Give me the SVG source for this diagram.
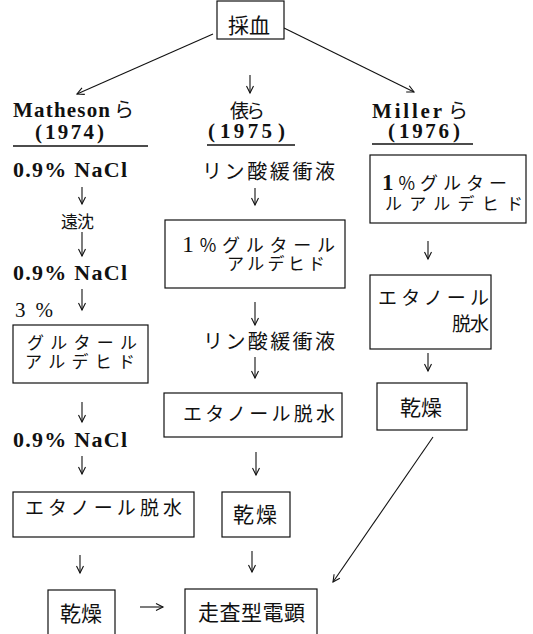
<svg xmlns="http://www.w3.org/2000/svg" width="533" height="634" viewBox="0 0 533 634">
<style>
.b{fill:#fff;stroke:#111;stroke-width:1.2}
.c{fill:none;stroke:#111;stroke-width:1.1}
.j{font-family:"Noto Sans CJK JP","Noto Sans CJK SC",sans-serif;fill:#111}
.s{font-family:"Liberation Serif","Noto Sans CJK JP",serif;font-weight:bold;fill:#111}
.u{stroke:#111;stroke-width:1.3}
</style>
<defs>
<marker id="ah" markerUnits="userSpaceOnUse" markerWidth="12" markerHeight="10" refX="10" refY="5" orient="auto">
<path d="M3,1.5 L10,5 L3,8.5" fill="none" stroke="#111" stroke-width="1.1"/>
</marker>
</defs>
<rect width="533" height="634" fill="#fff"/>
<g id="connectors">
<line class="c" x1="213" y1="34" x2="77" y2="94" marker-end="url(#ah)"/>
<line class="c" x1="284" y1="28" x2="414" y2="92" marker-end="url(#ah)"/>
<line class="c" x1="250" y1="75" x2="250" y2="93" marker-end="url(#ah)"/>
<line class="c" x1="82" y1="187" x2="82" y2="204" marker-end="url(#ah)"/>
<line class="c" x1="82" y1="232" x2="82" y2="256" marker-end="url(#ah)"/>
<line class="c" x1="82" y1="289" x2="82" y2="310" marker-end="url(#ah)"/>
<line class="c" x1="82" y1="402" x2="82" y2="422" marker-end="url(#ah)"/>
<line class="c" x1="82" y1="456" x2="82" y2="474" marker-end="url(#ah)"/>
<line class="c" x1="80" y1="555" x2="80" y2="573" marker-end="url(#ah)"/>
<line class="c" x1="140" y1="607" x2="163" y2="607" marker-end="url(#ah)"/>
<line class="c" x1="255" y1="188" x2="255" y2="205" marker-end="url(#ah)"/>
<line class="c" x1="255" y1="302" x2="255" y2="325" marker-end="url(#ah)"/>
<line class="c" x1="255" y1="357" x2="255" y2="378" marker-end="url(#ah)"/>
<line class="c" x1="256" y1="452" x2="256" y2="475" marker-end="url(#ah)"/>
<line class="c" x1="252" y1="551" x2="252" y2="572" marker-end="url(#ah)"/>
<line class="c" x1="428" y1="241" x2="428" y2="259" marker-end="url(#ah)"/>
<line class="c" x1="428" y1="353" x2="428" y2="371" marker-end="url(#ah)"/>
<line class="c" x1="433" y1="437" x2="333" y2="582" marker-end="url(#ah)"/>
</g>
<g id="headers">
<text class="s" x="13" y="117" style="font-size:21px"><tspan textLength="97" lengthAdjust="spacing">Matheson</tspan><tspan x="114" class="j" style="font-weight:normal;font-size:20px">ら</tspan></text>
<text class="s" x="35" y="139" style="font-size:21px"><tspan>(</tspan><tspan x="45" textLength="49" lengthAdjust="spacing">1974</tspan><tspan x="97">)</tspan></text>
<line class="u" x1="13" y1="146" x2="148" y2="146" stroke-width="2"/>
<text class="j" x="230" y="118" style="font-size:19px" textLength="35" lengthAdjust="spacing">俵ら</text>
<text class="s" x="208" y="138" style="font-size:21px"><tspan>(</tspan><tspan x="220" textLength="52" lengthAdjust="spacing">1975</tspan><tspan x="278">)</tspan></text>
<line class="u" x1="207" y1="145" x2="295" y2="145"/>
<text class="s" x="372" y="118" style="font-size:21px"><tspan textLength="70" lengthAdjust="spacing">Miller</tspan><tspan x="448" class="j" style="font-weight:normal;font-size:20px">ら</tspan></text>
<text class="s" x="388" y="138" style="font-size:21px"><tspan>(</tspan><tspan x="399" textLength="50" lengthAdjust="spacing">1976</tspan><tspan x="453">)</tspan></text>
<line class="u" x1="372" y1="144" x2="473" y2="144"/>
</g>
<g id="n-saiketsu"><rect class="b" x="217" y="1" width="67" height="38"/><text class="j" x="228" y="33" style="font-size:21px">採血</text></g>
<g id="m-nacl1"><text class="s" x="13" y="177" style="font-size:22px" textLength="114" lengthAdjust="spacing">0.9% NaCl</text></g>
<g id="m-enchin"><text class="j" x="61" y="228" style="font-size:17px" textLength="33" lengthAdjust="spacing">遠沈</text></g>
<g id="m-nacl2"><text class="s" x="13" y="280" style="font-size:22px" textLength="114" lengthAdjust="spacing">0.9% NaCl</text></g>
<g id="m-glut"><text class="s" x="15" y="317" style="font-size:21px;font-weight:normal" textLength="38" lengthAdjust="spacing">3 %</text><rect class="b" x="13" y="325" width="135" height="58"/><text class="j" x="27" y="349" style="font-size:17px" textLength="110" lengthAdjust="spacing">グルタール</text><text class="j" x="25" y="368" style="font-size:17px" textLength="110" lengthAdjust="spacing">アルデヒド</text></g>
<g id="m-nacl3"><text class="s" x="13" y="447" style="font-size:22px" textLength="114" lengthAdjust="spacing">0.9% NaCl</text></g>
<g id="m-ethanol"><rect class="b" x="13" y="492" width="181" height="45"/><text class="j" x="25" y="515" style="font-size:19px" textLength="157" lengthAdjust="spacing">エタノール脱水</text></g>
<g id="m-dry"><rect class="b" x="48" y="590" width="67" height="50"/><text class="j" x="60" y="621" style="font-size:21px" textLength="42" lengthAdjust="spacing">乾燥</text></g>
<g id="n-sem"><rect class="b" x="185" y="589" width="132" height="51"/><text class="j" x="198" y="620" style="font-size:21px" textLength="107" lengthAdjust="spacing">走査型電顕</text></g>
<g id="t-buffer1"><text class="j" x="202" y="179" style="font-size:20px" textLength="133" lengthAdjust="spacing">リン酸緩衝液</text></g>
<g id="t-glut"><rect class="b" x="165" y="220" width="180" height="68"/><text class="j" x="182" y="252" style="font-size:18px" textLength="153" lengthAdjust="spacing"><tspan style="font-family:'Liberation Serif';font-size:24px">1</tspan>%グルタール</text><text class="j" x="227" y="270" style="font-size:17px" textLength="98" lengthAdjust="spacing">アルデヒド</text></g>
<g id="t-buffer2"><text class="j" x="203" y="349" style="font-size:20px" textLength="132" lengthAdjust="spacing">リン酸緩衝液</text></g>
<g id="t-ethanol"><rect class="b" x="164" y="393" width="178" height="44"/><text class="j" x="183" y="421" style="font-size:19px" textLength="152" lengthAdjust="spacing">エタノール脱水</text></g>
<g id="t-dry"><rect class="b" x="222" y="492" width="68" height="45"/><text class="j" x="233" y="522" style="font-size:21px" textLength="44" lengthAdjust="spacing">乾燥</text></g>
<g id="r-glut"><rect class="b" x="370" y="155" width="156" height="68"/><text class="j" x="382" y="190" style="font-size:18px" textLength="125" lengthAdjust="spacing"><tspan style="font-family:'Liberation Serif';font-weight:bold;font-size:23px">1</tspan>%グルター</text><text class="j" x="385" y="210" style="font-size:17px" textLength="138" lengthAdjust="spacing">ルアルデヒド</text></g>
<g id="r-ethanol"><rect class="b" x="370" y="275" width="121" height="74"/><text class="j" x="378" y="305" style="font-size:19px" textLength="111" lengthAdjust="spacing">エタノール</text><text class="j" x="452" y="331" style="font-size:19px" textLength="37" lengthAdjust="spacing">脱水</text></g>
<g id="r-dry"><rect class="b" x="377" y="383" width="90" height="47"/><text class="j" x="400" y="415" style="font-size:21px" textLength="42" lengthAdjust="spacing">乾燥</text></g>
</svg>
